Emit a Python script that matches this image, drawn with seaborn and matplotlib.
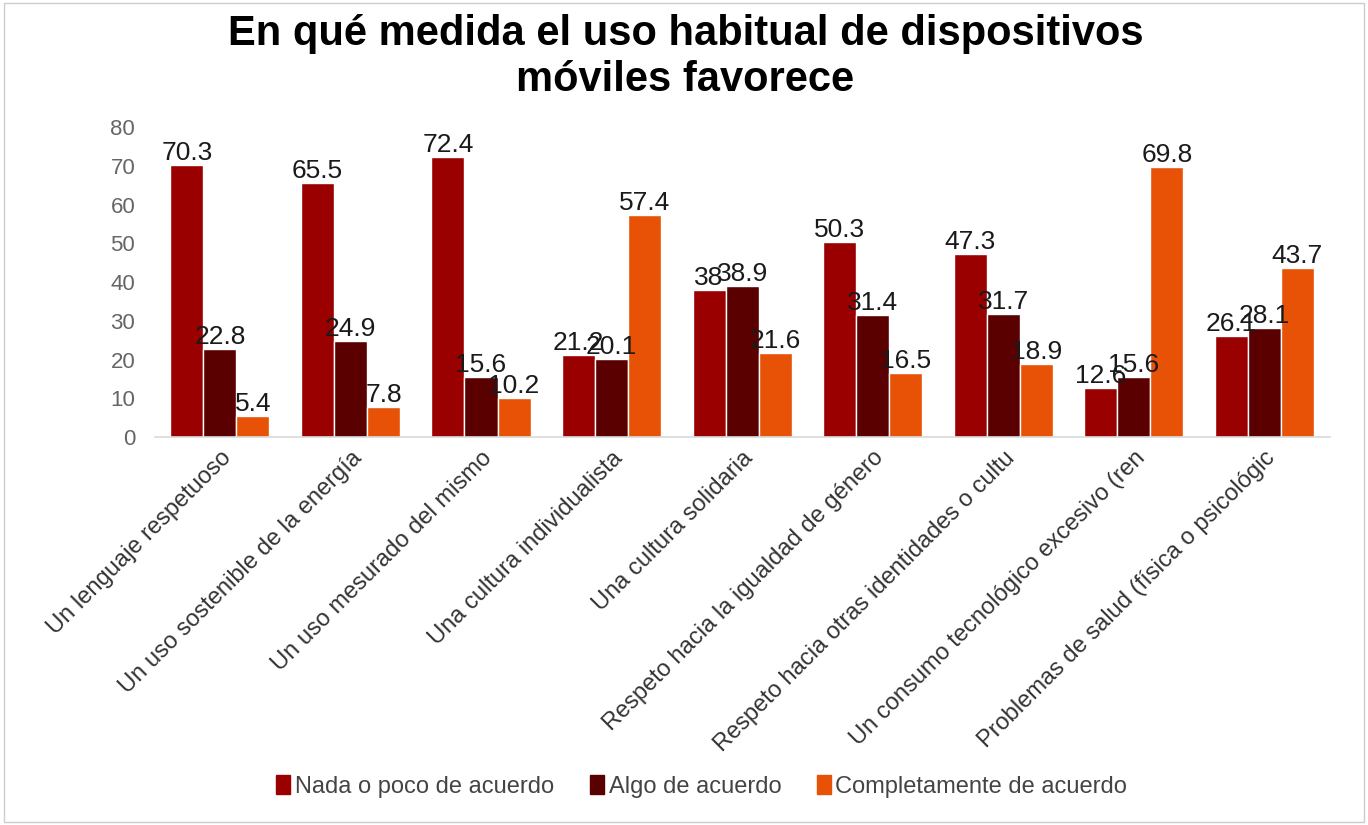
import matplotlib
matplotlib.use("Agg")
import matplotlib.pyplot as plt
import seaborn as sns
import pandas as pd
from matplotlib.patches import Rectangle

categories = [
    "Un lenguaje respetuoso",
    "Un uso sostenible de la energía",
    "Un uso mesurado del mismo",
    "Una cultura individualista",
    "Una cultura solidaria",
    "Respeto hacia la igualdad de género",
    "Respeto hacia otras identidades o cultu",
    "Un consumo tecnológico excesivo (ren",
    "Problemas de salud (física o psicológic",
]
series_names = ["Nada o poco de acuerdo", "Algo de acuerdo", "Completamente de acuerdo"]
nada = [70.3, 65.5, 72.4, 21.2, 38.0, 50.3, 47.3, 12.6, 26.1]
algo = [22.8, 24.9, 15.6, 20.1, 38.9, 31.4, 31.7, 15.6, 28.1]
completamente = [5.4, 7.8, 10.2, 57.4, 21.6, 16.5, 18.9, 69.8, 43.7]
label_text = [
    ["70.3", "65.5", "72.4", "21.2", "38", "50.3", "47.3", "12.6", "26.1"],
    ["22.8", "24.9", "15.6", "20.1", "38.9", "31.4", "31.7", "15.6", "28.1"],
    ["5.4", "7.8", "10.2", "57.4", "21.6", "16.5", "18.9", "69.8", "43.7"],
]
colors = ["#9B0000", "#5A0000", "#E85206"]
yticks = [0, 10, 20, 30, 40, 50, 60, 70, 80]

rows = []
for s, vals in zip(series_names, [nada, algo, completamente]):
    for c, v in zip(categories, vals):
        rows.append({"cat": c, "serie": s, "valor": v})
df = pd.DataFrame(rows)

sns.set_theme(style="white")
plt.rcParams["font.family"] = ["Liberation Sans", "DejaVu Sans"]

fig = plt.figure(figsize=(13.68, 8.25), dpi=100)
ax = fig.add_axes([0.113, 0.470, 0.859, 0.376])

sns.barplot(data=df, x="cat", y="valor", hue="serie", order=categories,
            hue_order=series_names, palette=colors, width=0.76,
            saturation=1, ax=ax, legend=False, errorbar=None)

for cont, labs in zip(ax.containers, label_text):
    ax.bar_label(cont, labels=labs, padding=0, fontsize=19, color="#1a1a1a")

ax.set_ylim(0, 80)
ax.set_yticks(yticks)
ax.set_yticklabels([str(t) for t in yticks], fontsize=16, color="#666666")
ax.set_xlabel("")
ax.set_ylabel("")
ax.tick_params(axis="y", length=0, pad=14)
ax.tick_params(axis="x", length=0, pad=7)
ax.set_xticks(range(len(categories)))
ax.set_xticklabels(categories, rotation=45, ha="right", rotation_mode="anchor",
                   fontsize=17, color="#333333")
for side in ["top", "right", "left"]:
    ax.spines[side].set_visible(False)
ax.spines["bottom"].set_color("#d9d9d9")
ax.spines["bottom"].set_linewidth(1.2)

fig.text(0.501, 0.983, "En qué medida el uso habitual de dispositivos\nmóviles favorece",
         ha="center", va="top", fontsize=30, fontweight="bold", color="#000000",
         linespacing=1.2)

handles = [Rectangle((0, 0), 1, 1, color=c) for c in colors]
fig.legend(handles, series_names, loc="center", bbox_to_anchor=(0.513, 0.047),
           ncol=3, frameon=False, fontsize=17, handlelength=0.6, handleheight=0.9,
           handletextpad=0.2, columnspacing=1.5, labelcolor="#444444")

border = Rectangle((0.003, 0.004), 0.994, 0.992, transform=fig.transFigure,
                   fill=False, edgecolor="#cccccc", linewidth=1)
fig.patches.append(border)

fig.savefig("out.png", dpi=100)
